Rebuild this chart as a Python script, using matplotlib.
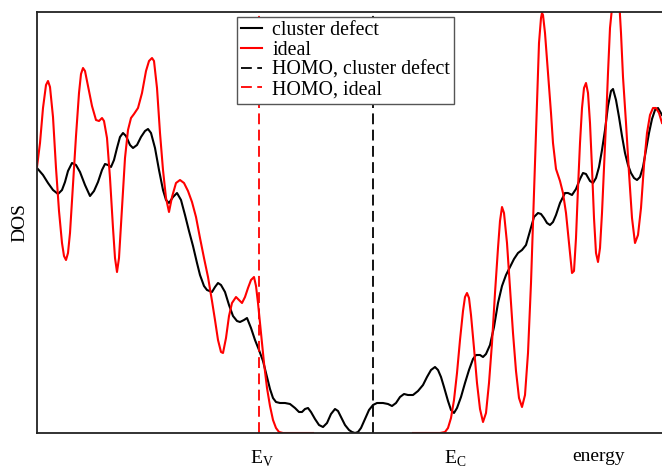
import numpy as np
import matplotlib
matplotlib.use("Agg")
import matplotlib.pyplot as plt

plt.rcParams["font.family"] = ["Liberation Serif", "DejaVu Serif"]
plt.rcParams["mathtext.fontset"] = "custom"
plt.rcParams["mathtext.rm"] = "Liberation Serif"

# ── Data (energy and DOS in arbitrary units) ───
energy_defect = [37, 43, 48, 53, 58, 62, 65, 68, 72, 76, 80, 85, 90, 94, 98,
                 102, 105, 108, 111, 114, 117, 120, 123, 126, 130, 133, 137,
                 141, 145, 148, 151, 155, 159, 163, 166, 169, 173, 177, 181,
                 185, 189, 193, 197, 200, 204, 207, 212, 215, 218, 221, 225,
                 229, 233, 237, 240, 244, 247, 251, 255, 259, 263, 266, 270,
                 273, 276, 280, 285, 290, 295, 299, 302, 305, 308, 311, 315,
                 319, 323, 327, 331, 335, 338, 341, 345, 349, 352, 355, 358,
                 361, 365, 369, 373, 377, 383, 388, 392, 396, 400, 404, 408,
                 413, 418, 423, 427, 431, 435, 438, 441, 444, 448, 451, 454,
                 457, 461, 465, 469, 473, 476, 480, 483, 486, 490, 494, 498,
                 502, 506, 510, 514, 518, 522, 526, 530, 534, 538, 541, 544,
                 547, 550, 553, 556, 560, 565, 568, 572, 576, 580, 583, 586,
                 590, 593, 596, 599, 602, 605, 608, 611, 613, 616, 619, 622,
                 625, 628, 631, 634, 637, 640, 643, 646, 649, 652, 655, 658,
                 662]
dos_defect = [265, 258, 250, 243, 239, 243, 251, 262, 270, 268, 261, 248, 237,
              242, 251, 263, 269, 268, 266, 273, 285, 296, 300, 297, 288, 285,
              288, 296, 302, 304, 300, 285, 263, 243, 233, 230, 236, 240, 233,
              218, 202, 187, 170, 158, 147, 143, 141, 146, 150, 148, 141, 128,
              117, 112, 111, 113, 115, 105, 93, 83, 72, 60, 44, 35, 31, 30, 30,
              29, 25, 21, 21, 24, 25, 21, 14, 8, 6, 10, 19, 24, 22, 16, 8, 3, 1,
              0, 1, 5, 14, 23, 28, 30, 30, 29, 27, 30, 36, 39, 38, 38, 42, 48,
              56, 63, 66, 63, 56, 46, 32, 23, 20, 25, 36, 50, 63, 74, 78, 78,
              76, 79, 88, 106, 130, 147, 158, 166, 174, 180, 183, 188, 202, 216,
              220, 219, 215, 210, 208, 211, 218, 230, 240, 240, 238, 244, 254,
              260, 259, 252, 250, 255, 266, 283, 303, 327, 342, 344, 333, 316,
              297, 280, 268, 260, 255, 253, 256, 266, 283, 300, 314, 323, 325,
              318]

energy_ideal = [37, 40, 43, 46, 48, 50, 53, 56, 59, 62, 64, 66, 68, 70, 73,
                76, 79, 81, 83, 85, 88, 92, 96, 99, 102, 104, 107, 110, 113,
                115, 117, 119, 122, 125, 128, 131, 134, 138, 142, 146, 149, 152,
                154, 157, 160, 163, 166, 169, 172, 176, 180, 184, 188, 192, 196,
                200, 204, 208, 212, 215, 218, 221, 223, 226, 229, 232, 236, 239,
                242, 245, 248, 251, 254, 256, 258, 261, 264, 267, 270, 273, 276,
                279, 283, 313, np.nan, 413, 440, 445, 448, 451, 454, 457, 460,
                463, 465, 467, 469, 471, 474, 477, 480, 483, 486, 489, 492, 495,
                498, 500, 502, 504, 507, 510, 513, 516, 519, 522, 525, 528, 531,
                534, 537, 539, 541, 542, 543, 545, 548, 551, 553, 556, 560, 563,
                566, 569, 572, 574, 576, 578, 580, 582, 584, 586, 588, 590, 592,
                594, 596, 598, 600, 602, 604, 606, 608, 610, 613, 616, 619, 621,
                623, 626, 629, 632, 635, 638, 641, 644, 647, 650, 653, 656, 659,
                662]
dos_ideal = [266, 290, 325, 348, 352, 346, 316, 265, 222, 190, 177, 173, 180,
             200, 248, 297, 340, 359, 365, 362, 347, 327, 313, 312, 315, 312,
             295, 255, 205, 175, 161, 175, 225, 275, 303, 315, 319, 325, 340,
             362, 372, 375, 372, 345, 300, 263, 235, 221, 236, 250, 253, 250,
             242, 231, 216, 195, 175, 156, 132, 113, 93, 81, 80, 95, 117, 130,
             136, 133, 130, 136, 145, 153, 156, 147, 130, 100, 70, 45, 27, 13,
             5, 1, 0, 0, np.nan, 0, 0, 1, 5, 15, 33, 60, 93, 122, 136, 140, 135,
             118, 85, 50, 24, 11, 20, 50, 90, 140, 185, 212, 226, 220, 190, 145,
             100, 62, 35, 26, 38, 80, 150, 240, 330, 390, 415, 420, 418, 400,
             360, 320, 290, 264, 252, 240, 220, 190, 160, 162, 195, 245, 290,
             325, 345, 350, 340, 310, 265, 215, 180, 171, 185, 220, 265, 310,
             360, 405, 435, 450, 435, 400, 356, 310, 260, 215, 190, 198, 225,
             268, 300, 318, 325, 325, 320, 310]

homo_defect = 373
homo_ideal = 259
tick_pos = [262, 455, 599]
tick_labels = [r"E$_\mathrm{V}$", r"E$_\mathrm{C}$", "energy"]

# ── Figure ───────────────────────────────────────────────────────────
fig = plt.figure(figsize=(6.62, 4.68), dpi=100)
ax = fig.add_axes([37 / 662, 35 / 468, 628 / 662, 421 / 468])

ax.plot(energy_defect, dos_defect, color="black", lw=1.5, label="cluster defect")
ax.plot(energy_ideal, dos_ideal, color="red", lw=1.5, label="ideal")
ax.axvline(homo_defect, color="black", lw=1.3, ls=(0, (6, 3)),
           label="HOMO, cluster defect")
ax.axvline(homo_ideal, color="red", lw=1.3, ls=(0, (6, 3)),
           label="HOMO, ideal")

ax.set_xlim(37, 665)
ax.set_ylim(0, 421)
ax.set_yticks([])
ax.set_xticks(tick_pos)
ax.set_xticklabels(tick_labels, fontsize=14)
ax.tick_params(axis="x", length=0, pad=11)
ax.set_ylabel("DOS", fontsize=14, labelpad=6)
for s in ax.spines.values():
    s.set_linewidth(1.3)
    s.set_color("#222222")

leg = ax.legend(loc="upper left", bbox_to_anchor=(237 / 662, 1 - 17 / 468),
                bbox_transform=fig.transFigure, borderaxespad=0,
                fontsize=14.3, labelspacing=0.03, handlelength=1.05,
                handletextpad=0.5, borderpad=0.22, fancybox=False,
                framealpha=1, edgecolor="#555555")
leg.get_frame().set_linewidth(1.0)

fig.savefig("out.png", dpi=100)
